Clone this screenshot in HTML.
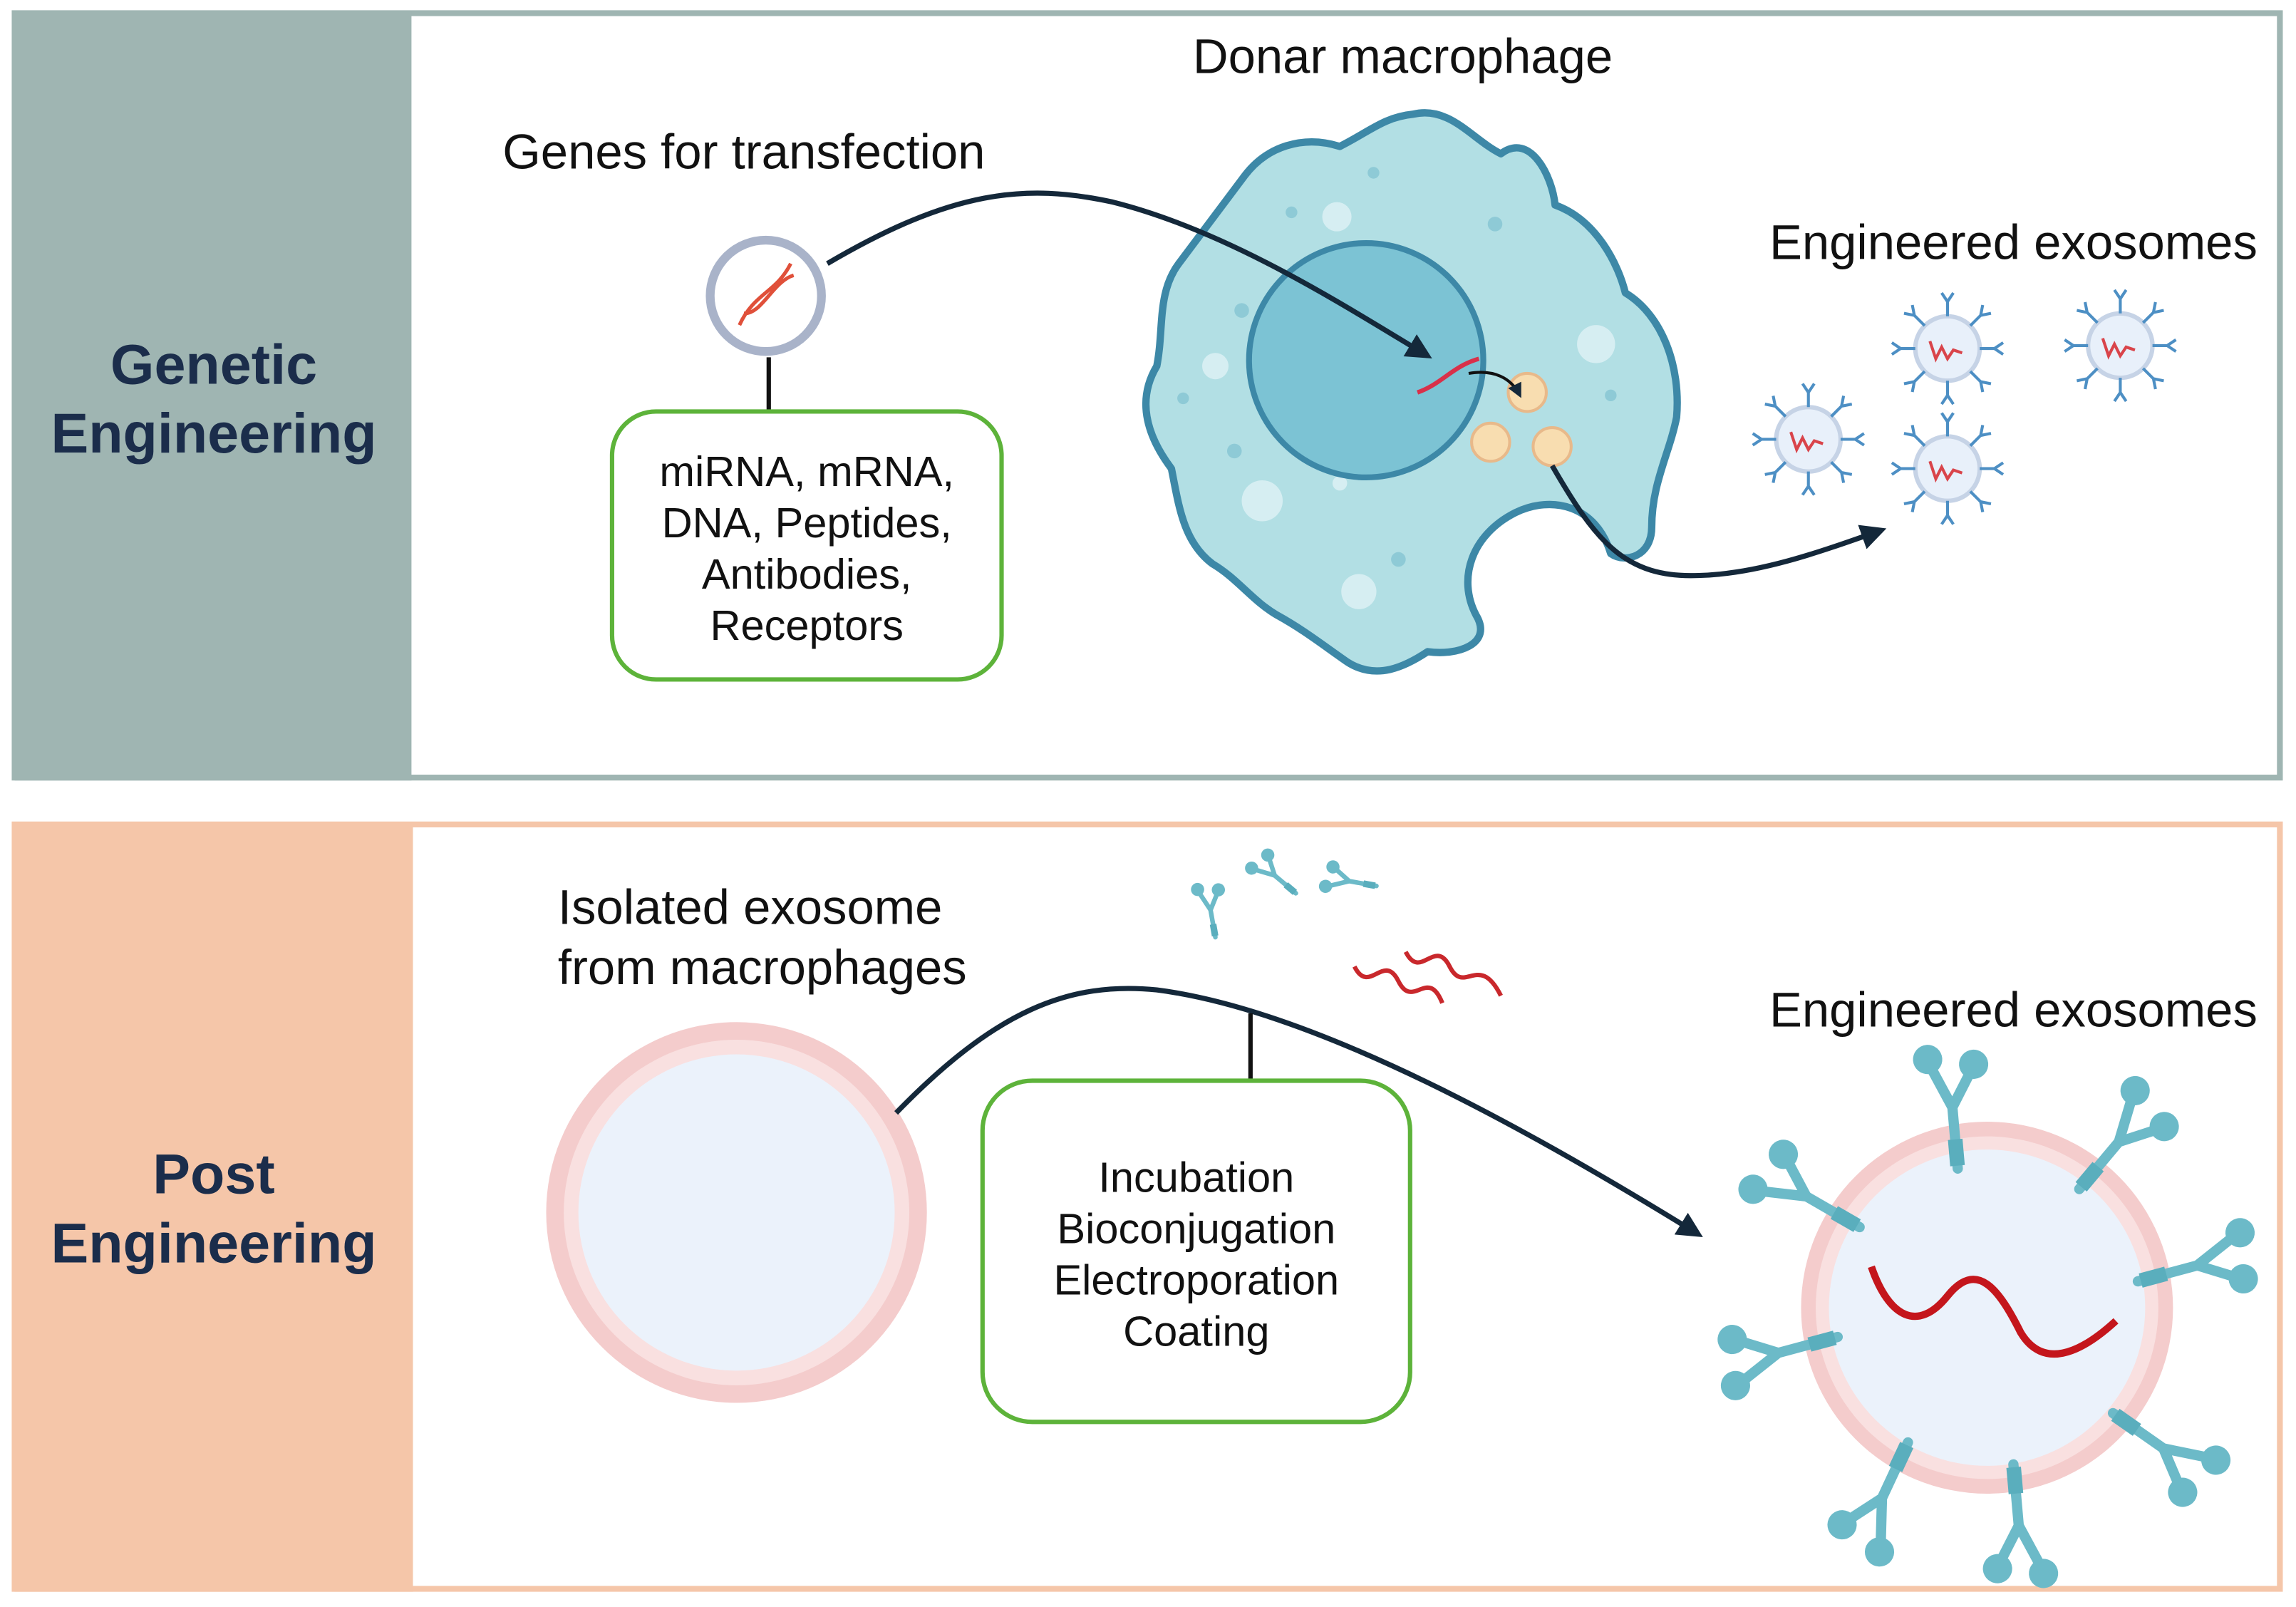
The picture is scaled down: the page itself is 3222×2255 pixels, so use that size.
<!DOCTYPE html>
<html><head><meta charset="utf-8"><style>
html,body{margin:0;padding:0;background:#fff}
svg{display:block}
text{font-family:"Liberation Sans",sans-serif}
</style></head><body>
<svg width="3222" height="2255" viewBox="0 0 1568 1097.4" xmlns="http://www.w3.org/2000/svg">
<defs>
<marker id="ah" viewBox="0 0 10 10" refX="8" refY="5" markerWidth="5" markerHeight="5" orient="auto"><path d="M0,0 L10,5 L0,10 z" fill="#14283a"/></marker>
<g id="ab">
<path d="M0,0 L0,-42 M0,-42 L-13,-72 M0,-42 L15,-66" stroke="#6cbac8" stroke-width="7" fill="none" stroke-linecap="round"/>
<rect x="-5" y="-20" width="10" height="18" fill="#5aaebd"/>
<circle cx="-14" cy="-76" r="10" fill="#6cbac8"/><circle cx="17" cy="-70" r="10" fill="#6cbac8"/>
</g>
<g id="sab"><path d="M0,0 L0,-10 M0,-10 L-4,-16 M0,-10 L4,-16" stroke="#4d8fc4" stroke-width="2" fill="none"/></g>
<g id="sx">
<circle r="22" fill="#e8f0fa" stroke="#c6d3e6" stroke-width="3"/>
<path d="M-12,-5 l4,12 l4,-8 l4,8 l4,-6 l6,2" stroke="#d9444a" stroke-width="2" fill="none"/>
<use href="#sab" transform="rotate(0) translate(0,-22)"/><use href="#sab" transform="rotate(45) translate(0,-22)"/>
<use href="#sab" transform="rotate(90) translate(0,-22)"/><use href="#sab" transform="rotate(135) translate(0,-22)"/>
<use href="#sab" transform="rotate(180) translate(0,-22)"/><use href="#sab" transform="rotate(225) translate(0,-22)"/>
<use href="#sab" transform="rotate(270) translate(0,-22)"/><use href="#sab" transform="rotate(315) translate(0,-22)"/>
</g>
</defs>

<!-- Top panel -->
<rect x="10" y="9" width="1547" height="522" fill="#fff" stroke="#9fb5b2" stroke-width="4"/>
<rect x="10" y="8" width="271" height="525" fill="#9fb5b2"/>
<text x="146" y="262" text-anchor="middle" font-size="38.5" font-weight="bold" fill="#1b2d4b">Genetic</text>
<text x="146" y="309" text-anchor="middle" font-size="38.5" font-weight="bold" fill="#1b2d4b">Engineering</text>

<text x="958" y="50" text-anchor="middle" font-size="33.5" fill="#111">Donar macrophage</text>
<text x="508" y="115" text-anchor="middle" font-size="33.5" fill="#111">Genes for transfection</text>
<text x="1375" y="177" text-anchor="middle" font-size="33.5" fill="#111">Engineered exosomes</text>

<!-- plasmid -->
<circle cx="523" cy="202" r="38" fill="#fff" stroke="#a9b3c9" stroke-width="6"/>
<path d="M505,222 C515,200 530,200 540,180 M508,214 C520,215 528,192 542,188" stroke="#e0503a" stroke-width="2.5" fill="none"/>
<line x1="525" y1="244" x2="525" y2="282" stroke="#111" stroke-width="3"/>
<rect x="418" y="281" width="266" height="183" rx="30" fill="#fff" stroke="#5db33a" stroke-width="3"/>
<g font-size="29" fill="#111" text-anchor="middle">
<text x="551" y="332">miRNA, mRNA,</text><text x="551" y="367">DNA, Peptides,</text>
<text x="551" y="402">Antibodies,</text><text x="551" y="437">Receptors</text></g>

<!-- macrophage -->
<path d="M965,78 C990,72 1005,95 1025,105 C1045,90 1060,120 1062,140 C1090,150 1105,180 1110,200 C1135,215 1148,250 1145,285 C1140,310 1128,330 1128,360 C1128,380 1110,385 1100,378 C1090,345 1060,338 1035,350 C1005,365 995,395 1008,420 C1020,440 995,448 975,445 C960,455 940,465 920,452 C900,438 890,430 872,420 C855,410 845,395 828,385 C808,370 805,345 800,320 C785,300 775,275 790,250 C795,225 790,200 805,180 C820,160 835,140 850,120 C865,100 890,92 915,100 C935,90 945,80 965,78 Z" fill="#b2dfe4" stroke="#3d88a7" stroke-width="5" stroke-linejoin="round"/>
<g fill="#d6eef2"><circle cx="913" cy="148" r="10"/><circle cx="1090" cy="235" r="13"/><circle cx="830" cy="250" r="9"/><circle cx="862" cy="342" r="14"/><circle cx="928" cy="404" r="12"/><circle cx="915" cy="330" r="5"/></g>
<g fill="#8ecad6"><circle cx="938" cy="118" r="4"/><circle cx="1021" cy="153" r="5"/><circle cx="882" cy="145" r="4"/><circle cx="848" cy="212" r="5"/><circle cx="843" cy="308" r="5"/><circle cx="955" cy="382" r="5"/><circle cx="1100" cy="270" r="4"/><circle cx="808" cy="272" r="4"/></g>
<circle cx="933" cy="246" r="80" fill="#7cc3d4" stroke="#3d88a7" stroke-width="4"/>
<path d="M968,268 C985,262 992,250 1010,245" stroke="#d9304a" stroke-width="3" fill="none"/>
<g fill="#f8ddb0" stroke="#e8b98a" stroke-width="2"><circle cx="1043" cy="268" r="13"/><circle cx="1018" cy="302" r="13"/><circle cx="1060" cy="305" r="13"/></g>
<path d="M1003,255 C1020,252 1032,258 1038,270" stroke="#111" stroke-width="2" fill="none" marker-end="url(#ah)"/>

<!-- arrows top -->
<path d="M565,180 C650,130 700,125 760,138 C840,158 920,210 975,243" stroke="#14283a" stroke-width="3.5" fill="none" marker-end="url(#ah)"/>
<path d="M1060,318 C1090,370 1110,395 1160,393 C1200,392 1240,378 1285,362" stroke="#14283a" stroke-width="3.5" fill="none" marker-end="url(#ah)"/>

<use href="#sx" x="1330" y="238"/><use href="#sx" x="1448" y="236"/><use href="#sx" x="1235" y="300"/><use href="#sx" x="1330" y="320"/>

<!-- Bottom panel -->
<rect x="10" y="563" width="1547" height="522" fill="#fff" stroke="#f5c6a9" stroke-width="4"/>
<rect x="10" y="562" width="272" height="525" fill="#f5c6a9"/>
<text x="146" y="815" text-anchor="middle" font-size="38.5" font-weight="bold" fill="#1b2d4b">Post</text>
<text x="146" y="862" text-anchor="middle" font-size="38.5" font-weight="bold" fill="#1b2d4b">Engineering</text>

<text x="381" y="631" font-size="33.5" fill="#111">Isolated exosome</text>
<text x="381" y="672" font-size="33.5" fill="#111">from macrophages</text>
<text x="1375" y="701" text-anchor="middle" font-size="33.5" fill="#111">Engineered exosomes</text>

<circle cx="503" cy="828" r="130" fill="#f4cccc"/>
<circle cx="503" cy="828" r="118" fill="#f9e0e0"/>
<circle cx="503" cy="828" r="108" fill="#ebf2fb"/>

<path d="M612,760 C680,690 730,670 790,676 C900,690 1050,775 1160,843" stroke="#14283a" stroke-width="3.5" fill="none" marker-end="url(#ah)"/>
<line x1="854" y1="692" x2="854" y2="738" stroke="#111" stroke-width="3"/>
<rect x="671" y="738" width="292" height="233" rx="34" fill="#fff" stroke="#5db33a" stroke-width="3"/>
<g font-size="29" fill="#111" text-anchor="middle">
<text x="817" y="814">Incubation</text><text x="817" y="849">Bioconjugation</text>
<text x="817" y="884">Electroporation</text><text x="817" y="919">Coating</text></g>

<!-- floating antibodies & RNA -->
<g transform="translate(830,640) scale(0.45) rotate(-10)"><use href="#ab"/></g>
<g transform="translate(885,610) scale(0.45) rotate(-50)"><use href="#ab"/></g>
<g transform="translate(940,605) scale(0.45) rotate(-80)"><use href="#ab"/></g>
<path d="M925,660 c10,20 20,-10 30,10 c10,20 20,-10 30,15 M960,650 c10,20 20,-10 30,10 c10,20 20,-10 35,20" stroke="#c9282c" stroke-width="3" fill="none"/>

<!-- big engineered exosome -->
<circle cx="1357" cy="893" r="127" fill="#f4cccc"/>
<circle cx="1357" cy="893" r="117" fill="#f9e0e0"/>
<circle cx="1357" cy="893" r="108" fill="#ebf2fb"/>
<path d="M1278,865 C1290,900 1310,910 1330,885 C1350,860 1365,880 1380,910 C1395,935 1420,925 1445,902" stroke="#c4161c" stroke-width="5" fill="none"/>
<g>
<use href="#ab" transform="translate(1337,798) rotate(-5)"/>
<use href="#ab" transform="translate(1420,812) rotate(40)"/>
<use href="#ab" transform="translate(1460,875) rotate(75)"/>
<use href="#ab" transform="translate(1443,965) rotate(125)"/>
<use href="#ab" transform="translate(1375,1000) rotate(175)"/>
<use href="#ab" transform="translate(1303,985) rotate(205)"/>
<use href="#ab" transform="translate(1255,913) rotate(255)"/>
<use href="#ab" transform="translate(1270,838) rotate(-60)"/>
</g>
</svg>
</body></html>
